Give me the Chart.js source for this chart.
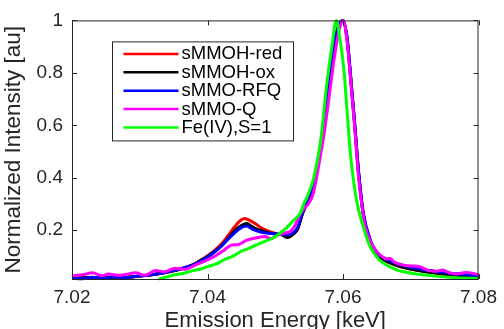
<!DOCTYPE html>
<html><head><meta charset="utf-8">
<script src="https://cdn.jsdelivr.net/npm/chart.js@4.4.0/dist/chart.umd.min.js"></script>
<style>html,body{margin:0;padding:0;background:#fff;overflow:hidden}</style>
</head><body>
<canvas id="c" width="504" height="329" style="width:504px;height:329px;display:block"></canvas>
<script>
// ---------- data ----------
const seriesNames = ['sMMOH-red', 'sMMOH-ox', 'sMMO-RFQ', 'sMMO-Q', 'Fe(IV),S=1'];
const seriesColors = ['#ff0000', '#000000', '#0000ff', '#ff00ff', '#00ff00'];
const xTicks = [7.02, 7.04, 7.06, 7.08];
const yTicks = [0.2, 0.4, 0.6, 0.8, 1];

const redE = [7.020,7.022,7.024,7.026,7.028,7.030,7.032,7.034,7.036,7.038,7.039,7.040,7.041,7.042,7.043,7.044,7.045,7.0455,7.046,7.047,7.048,7.049,7.050,7.051,7.052,7.0527,7.0533,7.054,7.0548,7.0556,7.0562,7.0568,7.0574,7.058,7.0588,7.0594,7.0600,7.0606,7.0611,7.0617,7.0623,7.063,7.064,7.065,7.066,7.068,7.070,7.074,7.078,7.080];
const redI = [0.016,0.020,0.018,0.021,0.020,0.025,0.031,0.040,0.052,0.070,0.086,0.103,0.122,0.146,0.178,0.213,0.240,0.245,0.240,0.226,0.208,0.196,0.188,0.183,0.178,0.186,0.205,0.262,0.310,0.370,0.450,0.540,0.660,0.790,0.920,0.980,1.000,0.930,0.790,0.610,0.420,0.260,0.160,0.110,0.088,0.065,0.052,0.036,0.026,0.022];

const oxE = [7.020,7.022,7.024,7.026,7.028,7.030,7.032,7.034,7.036,7.038,7.039,7.040,7.041,7.042,7.043,7.044,7.045,7.0458,7.0465,7.047,7.048,7.049,7.050,7.051,7.0518,7.0527,7.0533,7.054,7.0548,7.0556,7.0562,7.0568,7.0574,7.058,7.0588,7.0594,7.0600,7.0606,7.0611,7.0617,7.0623,7.063,7.064,7.065,7.066,7.067,7.068,7.069,7.070,7.072,7.074,7.076,7.078,7.080];
const oxI = [0.016,0.020,0.018,0.021,0.020,0.025,0.031,0.040,0.052,0.070,0.084,0.100,0.118,0.140,0.168,0.198,0.218,0.226,0.215,0.207,0.198,0.190,0.186,0.182,0.172,0.186,0.205,0.262,0.310,0.370,0.450,0.540,0.660,0.790,0.920,0.980,1.000,0.930,0.790,0.610,0.420,0.260,0.160,0.110,0.088,0.075,0.065,0.058,0.052,0.043,0.036,0.030,0.026,0.022];

const rfqE = [7.020,7.0215,7.023,7.0245,7.026,7.028,7.030,7.032,7.034,7.036,7.038,7.039,7.040,7.041,7.042,7.043,7.044,7.045,7.0458,7.0465,7.047,7.048,7.049,7.050,7.051,7.052,7.0527,7.0533,7.054,7.0548,7.0556,7.0562,7.0568,7.0574,7.058,7.0588,7.0594,7.0600,7.0606,7.0611,7.0617,7.0623,7.063,7.064,7.065,7.066,7.067,7.068,7.069,7.070,7.071,7.072,7.073,7.074,7.075,7.076,7.077,7.078,7.079,7.080];
const rfqI = [0.017,0.015,0.021,0.017,0.022,0.020,0.026,0.031,0.041,0.053,0.069,0.082,0.098,0.116,0.138,0.165,0.190,0.210,0.216,0.206,0.200,0.192,0.188,0.186,0.185,0.183,0.192,0.210,0.265,0.315,0.372,0.452,0.545,0.665,0.795,0.925,0.985,1.000,0.935,0.795,0.615,0.420,0.265,0.165,0.114,0.095,0.082,0.072,0.066,0.058,0.055,0.048,0.046,0.042,0.040,0.035,0.034,0.030,0.028,0.026];

const qE = [7.020,7.0216,7.023,7.0245,7.0254,7.0269,7.028,7.0294,7.0308,7.0323,7.0337,7.0352,7.0367,7.0381,7.0396,7.041,7.0425,7.0435,7.0445,7.0459,7.0474,7.0484,7.0494,7.0503,7.0513,7.0523,7.0528,7.0537,7.0543,7.0549,7.0556,7.0562,7.0567,7.0572,7.0578,7.0584,7.0591,7.0596,7.0600,7.0606,7.0611,7.0617,7.0623,7.0628,7.0633,7.064,7.0645,7.065,7.066,7.0665,7.0669,7.0675,7.0689,7.070,7.0713,7.0727,7.0738,7.0747,7.0755,7.0767,7.0781,7.0796,7.080];
const qI = [0.026,0.030,0.038,0.026,0.033,0.028,0.032,0.038,0.028,0.046,0.042,0.055,0.051,0.066,0.082,0.100,0.125,0.143,0.145,0.163,0.172,0.176,0.168,0.180,0.188,0.197,0.213,0.263,0.285,0.300,0.340,0.415,0.490,0.567,0.680,0.800,0.920,0.980,1.000,0.920,0.780,0.600,0.400,0.290,0.213,0.160,0.137,0.118,0.095,0.090,0.093,0.080,0.067,0.064,0.061,0.046,0.044,0.048,0.040,0.033,0.039,0.033,0.030];

const fe4E = [7.0328,7.034,7.0352,7.0365,7.0377,7.039,7.0401,7.0413,7.0425,7.0437,7.045,7.046,7.0474,7.0485,7.0498,7.051,7.0518,7.0528,7.0537,7.0542,7.0547,7.0557,7.0567,7.0576,7.0584,7.059,7.0596,7.0601,7.0606,7.0611,7.062,7.063,7.064,7.0654,7.0669,7.068,7.0693,7.0718,7.074,7.0767,7.080];
const fe4I = [0.014,0.022,0.030,0.036,0.045,0.052,0.062,0.072,0.088,0.100,0.120,0.130,0.146,0.158,0.172,0.195,0.213,0.240,0.265,0.300,0.326,0.402,0.541,0.756,0.908,1.000,0.920,0.820,0.655,0.490,0.314,0.213,0.137,0.086,0.061,0.048,0.040,0.030,0.024,0.019,0.016];

const seriesE = [redE, oxE, rfqE, qE, fe4E];
const seriesI = [redI, oxI, rfqI, qI, fe4I];

// ---------- chart ----------
const FONT = '"Liberation Sans", Arial, Helvetica, sans-serif';
const AX = '#262626';

const framePlugin = {
  id: 'frame',
  afterDatasetsDraw(chart) {
    const ctx = chart.ctx, a = chart.chartArea;
    const xs = chart.scales.x, ys = chart.scales.y;
    ctx.save();
    ctx.strokeStyle = AX; ctx.lineWidth = 1;
    ctx.strokeRect(a.left + 0.5, a.top + 0.5, a.right - a.left - 1, a.bottom - a.top);
    ctx.beginPath();
    xs.ticks.forEach(t => {
      const p = Math.round(xs.getPixelForValue(t.value)) + 0.5;
      ctx.moveTo(p, a.bottom); ctx.lineTo(p, a.bottom - 5);
      ctx.moveTo(p, a.top); ctx.lineTo(p, a.top + 5);
    });
    ys.ticks.forEach(t => {
      const p = Math.round(ys.getPixelForValue(t.value)) + 0.5;
      ctx.moveTo(a.left, p); ctx.lineTo(a.left + 5, p);
      ctx.moveTo(a.right, p); ctx.lineTo(a.right - 5, p);
    });
    ctx.stroke();

    // legend box
    const x0 = a.left + 40.5, y0 = a.top + 21.5, w = 181, h = 99;
    ctx.fillStyle = '#fff';
    ctx.fillRect(x0, y0, w, h);
    ctx.strokeRect(x0, y0, w, h);
    ctx.font = '18.5px ' + FONT;
    ctx.textBaseline = 'middle';
    ctx.textAlign = 'left';
    chart.data.datasets.forEach((ds, i) => {
      const y = y0 + 12 + i * 18.4;
      ctx.strokeStyle = ds.borderColor; ctx.lineWidth = 2.5;
      ctx.beginPath(); ctx.moveTo(x0 + 11, y); ctx.lineTo(x0 + 66, y); ctx.stroke();
      ctx.fillStyle = '#000';
      ctx.fillText(ds.label, x0 + 69, y + 0.5);
    });
    ctx.restore();
  }
};

new Chart(document.getElementById('c'), {
  type: 'line',
  data: {
    datasets: seriesNames.map((n, i) => ({
      label: n,
      data: seriesE[i].map((e, k) => ({ x: e, y: seriesI[i][k] })),
      borderColor: seriesColors[i],
      backgroundColor: seriesColors[i],
      borderWidth: 3,
      pointRadius: 0,
      fill: false,
      cubicInterpolationMode: 'monotone',
      clip: false,
      order: 5 - i
    }))
  },
  options: {
    responsive: false,
    animation: false,
    devicePixelRatio: 1,
    layout: { padding: { left: 0, right: 21, top: 19, bottom: 0 } },
    plugins: { legend: { display: false }, tooltip: { enabled: false } },
    scales: {
      x: {
        type: 'linear', min: 7.02, max: 7.08,
        afterBuildTicks: s => { s.ticks = xTicks.map(v => ({ value: v })); },
        afterFit: s => { s.height = 50; },
        grid: { display: false, drawTicks: false, tickLength: 0 },
        border: { display: false },
        ticks: { color: AX, font: { family: FONT, size: 19 }, padding: 7, maxRotation: 0, autoSkip: false,
                 callback: v => Number(v).toFixed(2) },
        title: { display: true, text: 'Emission Energy [keV]', color: AX,
                 font: { family: FONT, size: 22, lineHeight: 0.75 }, padding: { top: 0, bottom: 0 } }
      },
      y: {
        type: 'linear', min: 0.014, max: 1.0,
        afterBuildTicks: s => { s.ticks = yTicks.map(v => ({ value: v })); },
        afterFit: s => { s.width = 72; },
        grid: { display: false, drawTicks: false, tickLength: 0 },
        border: { display: false },
        ticks: { color: AX, font: { family: FONT, size: 19 }, padding: 9, autoSkip: false,
                 callback: v => String(Number(v.toFixed(1))) },
        title: { display: true, text: 'Normalized Intensity [au]', color: AX,
                 font: { family: FONT, size: 22.5 }, padding: { top: 0, bottom: 0 } }
      }
    }
  },
  plugins: [framePlugin]
});
</script>
</body></html>
